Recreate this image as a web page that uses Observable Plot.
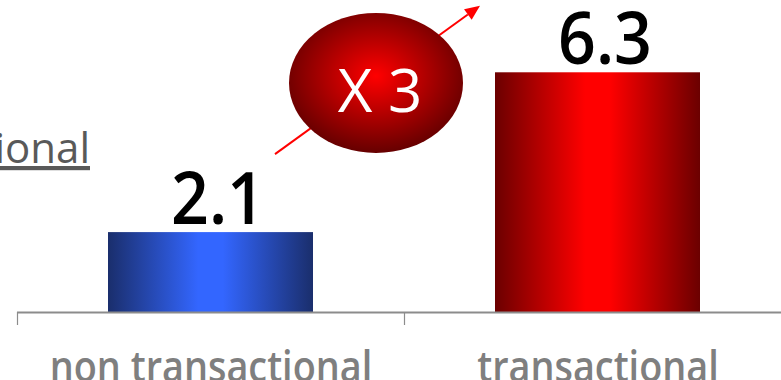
<!DOCTYPE html>
<html>
<head>
<meta charset="utf-8">
<script src="https://cdn.jsdelivr.net/npm/d3@7"></script>
<script src="https://cdn.jsdelivr.net/npm/@observablehq/plot@0.6"></script>
<style>
  html, body { margin: 0; padding: 0; background: #fff; }
  #chart { width: 781px; height: 380px; overflow: hidden; }
</style>
</head>
<body>
<div id="chart"></div>
<script>
// Average value per customer group
const categories = ["non transactional", "transactional"];
const values = [2.1, 6.3];
const legendLabel = "transactional";

// Multiplier shown in the badge, derived from the two values
const ratio = Math.round(values[1] / values[0]);
const badgeLabel = "X " + ratio;

const data = categories.map((category, i) => ({category, value: values[i]}));

const FONT = "'Open Sans', 'Noto Sans', sans-serif";
const gradients = [
  {id: "barBlue", edge: "#1a2e6c", mid: "#3366ff"},
  {id: "barRed", edge: "#6b0000", mid: "#ff0000"}
];

// Gradient definitions used by the bars and the badge
function defs() {
  const d = d3.create("svg:defs");
  for (const g of gradients) {
    const lg = d.append("linearGradient").attr("id", g.id)
      .attr("x1", "0%").attr("x2", "100%").attr("y1", "0%").attr("y2", "0%");
    lg.append("stop").attr("offset", "0%").attr("stop-color", g.edge);
    lg.append("stop").attr("offset", "44%").attr("stop-color", g.mid);
    lg.append("stop").attr("offset", "56%").attr("stop-color", g.mid);
    lg.append("stop").attr("offset", "100%").attr("stop-color", g.edge);
  }
  const rg = d.append("radialGradient").attr("id", "badgeGrad")
    .attr("cx", "50%").attr("cy", "45%").attr("r", "55%");
  rg.append("stop").attr("offset", "0%").attr("stop-color", "#ff0000");
  rg.append("stop").attr("offset", "100%").attr("stop-color", "#660000");
  return d.node();
}

// Category boundary ticks hanging below the baseline
function boundaryTicks(index, scales) {
  const g = d3.create("svg:g");
  const y0 = scales.y(0);
  for (const c of categories) {
    const x = scales.x(c) + 0.5;
    g.append("line").attr("x1", x).attr("x2", x).attr("y1", y0).attr("y2", y0 + 13)
      .attr("stroke", "#8c8c8c").attr("stroke-width", 1.2);
  }
  return g.node();
}

// Growth arrow and the multiplier badge between the two bars
function growthBadge(index, scales) {
  const g = d3.create("svg:g");
  const xb = scales.x(categories[1]);
  const x1 = xb - 129, y1 = scales.y(4.15);
  const x2 = xb + 76, y2 = scales.y(8.05);
  const a = Math.atan2(y2 - y1, x2 - x1);
  const L = 15, Wd = 6.5;
  const bx = x2 - L * Math.cos(a), by = y2 - L * Math.sin(a);
  g.append("line").attr("x1", x1).attr("y1", y1).attr("x2", bx).attr("y2", by)
    .attr("stroke", "#ff0000").attr("stroke-width", 2);
  g.append("path")
    .attr("d", `M${x2},${y2}L${bx - Wd * Math.sin(a)},${by + Wd * Math.cos(a)}L${bx + Wd * Math.sin(a)},${by - Wd * Math.cos(a)}Z`)
    .attr("fill", "#ff0000");
  const cx = xb - 28, cy = scales.y(6.02);
  g.append("ellipse").attr("cx", cx).attr("cy", cy).attr("rx", 87).attr("ry", 70)
    .attr("fill", "url(#badgeGrad)");
  g.append("text").attr("x", cx + 4).attr("y", cy + 29)
    .attr("text-anchor", "middle").attr("fill", "#fff")
    .attr("font-family", FONT).attr("font-size", 60)
    .text(badgeLabel);
  return g.node();
}

// Series label at the upper left, underlined
function legend() {
  return d3.create("svg:text")
    .attr("x", 90).attr("y", 163).attr("text-anchor", "end")
    .attr("fill", "#595959").attr("font-family", FONT).attr("font-size", 42)
    .style("text-decoration", "underline")
    .text(legendLabel).node();
}

const chart = Plot.plot({
  width: 781,
  height: 380,
  marginTop: 0,
  marginBottom: 68,
  marginLeft: 17,
  marginRight: -10,
  x: {domain: categories, padding: 0, axis: null},
  y: {domain: [0, 8.2], axis: null},
  style: {background: "#fff", fontFamily: FONT, overflow: "visible"},
  marks: [
    defs,
    ...data.map((d, i) => Plot.barY([d], {
      x: "category", y: "value", fill: `url(#${gradients[i].id})`,
      insetLeft: 91, insetRight: 91
    })),
    Plot.ruleY([0], {stroke: "#8c8c8c", strokeWidth: 2}),
    boundaryTicks,
    Plot.text(data, {
      x: "category", y: "value", text: d => d.value.toFixed(1),
      dy: -9, dx: 7, lineAnchor: "bottom", fontSize: 72, fontWeight: 600, fill: "#000",
      ariaLabel: () => "value-label"
    }),
    Plot.text(data, {
      x: "category", frameAnchor: "bottom", text: "category",
      dy: 69, lineAnchor: "bottom", fontSize: 44, fontWeight: 600, fill: "#7f7f7f",
      ariaLabel: () => "category-label"
    }),
    growthBadge,
    legend
  ]
});

document.getElementById("chart").appendChild(chart);

// Condensed lettering for the value and category labels
function condense(name, k) {
  chart.querySelectorAll(`text[aria-label="${name}"], g[aria-label="${name}"] text`).forEach(t => {
    const len = t.getComputedTextLength();
    t.setAttribute("textLength", len * k);
    t.setAttribute("lengthAdjust", "spacingAndGlyphs");
  });
}
condense("value-label", 0.92);
condense("category-label", 0.86);
</script>
</body>
</html>
